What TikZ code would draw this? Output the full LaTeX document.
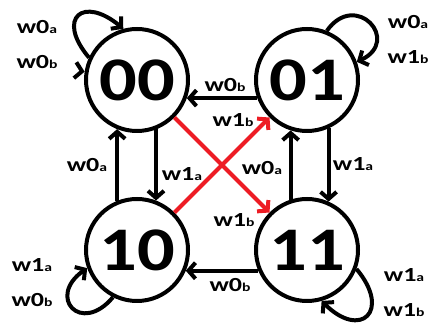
\documentclass[tikz,border=0pt]{standalone}
\usepackage{fontspec}
\usetikzlibrary{arrows.meta}
\newfontfamily\digitfont[FakeStretch=1.2]{Carlito}
\newfontfamily\labfont[FakeStretch=1.3]{Carlito}
\definecolor{paintred}{RGB}{237,28,36}
\newcommand{\wlab}[2]{w#1{\fontsize{12}{12}\selectfont #2}}

\begin{document}
\begin{tikzpicture}[x=1pt,y=1pt,
        statenode/.style={circle,draw,line width=4pt,minimum size=102pt,inner sep=0pt,
            font=\fontsize{62}{62}\selectfont\digitfont\bfseries},
        lab/.style={inner sep=0pt,font=\fontsize{20}{20}\selectfont\labfont\bfseries},
        edge/.style={line width=4pt,-{Straight Barb[length=7pt,width=16pt]}},
        cross/.style={edge,paintred}]
        \useasboundingbox (0,0) rectangle (433,328);
        \node[statenode] (n00) at (137,248) {00};
        \node[statenode] (n01) at (307,248) {01};
        \node[statenode] (n10) at (137,78) {10};
        \node[statenode] (n11) at (307,78) {11};
        % square
        \draw[edge] (n01.200) -- (n00.-20);
        \draw[edge] (n11.203) -- (n10.-23);
        \draw[edge] (n10.112) -- (n00.248);
        \draw[edge] (n00.291) -- (n10.69);
        \draw[edge] (n11.108) -- (n01.252);
        \draw[edge] (n01.294) -- (n11.66);
        \draw[cross] (n10.45) -- (n01.225);
        \draw[cross] (n00.-45) -- (n11.135);
        % loops
        \draw[edge] (n00.155) .. controls +(130:52) and +(140:52) .. (n00.105);
        \draw[edge,{Straight Barb[length=7pt,width=16pt]}-] (n00.171) -- ++(171:3);
        \draw[edge] (n01.68) .. controls +(55:50) and +(25:50) .. (n01.20);
        \draw[edge] (n11.-21) .. controls +(-50:55) and +(-45:55) .. (n11.-74);
        \draw[edge] (n10.-117) .. controls +(-130:50) and +(-145:50) .. (n10.-160);
        % labels
        \node[lab] (t1) at (225,243) {\wlab{0}{b}};
        \node[lab] (t2) at (233,208) {\wlab{1}{b}};
        \node[lab] (t3) at (262,160) {\wlab{0}{a}};
        \node[lab] (t4) at (182,154) {\wlab{1}{a}};
        \node[lab] (t5) at (234,108) {\wlab{1}{b}};
        \node[lab] (t6) at (87,163) {\wlab{0}{a}};
        \node[lab] (t7) at (353,164) {\wlab{1}{a}};
        \node[lab] (t8) at (230,43) {\wlab{0}{b}};
        \node[lab] (t9) at (37,301) {\wlab{0}{a}};
        \node[lab] (t10) at (37,266) {\wlab{0}{b}};
        \node[lab] (t11) at (408,306) {\wlab{0}{a}};
        \node[lab] (t12) at (408,271) {\wlab{1}{b}};
        \node[lab] (t13) at (32,63) {\wlab{1}{a}};
        \node[lab] (t14) at (32,28) {\wlab{0}{b}};
        \node[lab] (t15) at (404,53) {\wlab{1}{a}};
        \node[lab] (t16) at (404,18) {\wlab{1}{b}};
\end{tikzpicture}
\end{document}
